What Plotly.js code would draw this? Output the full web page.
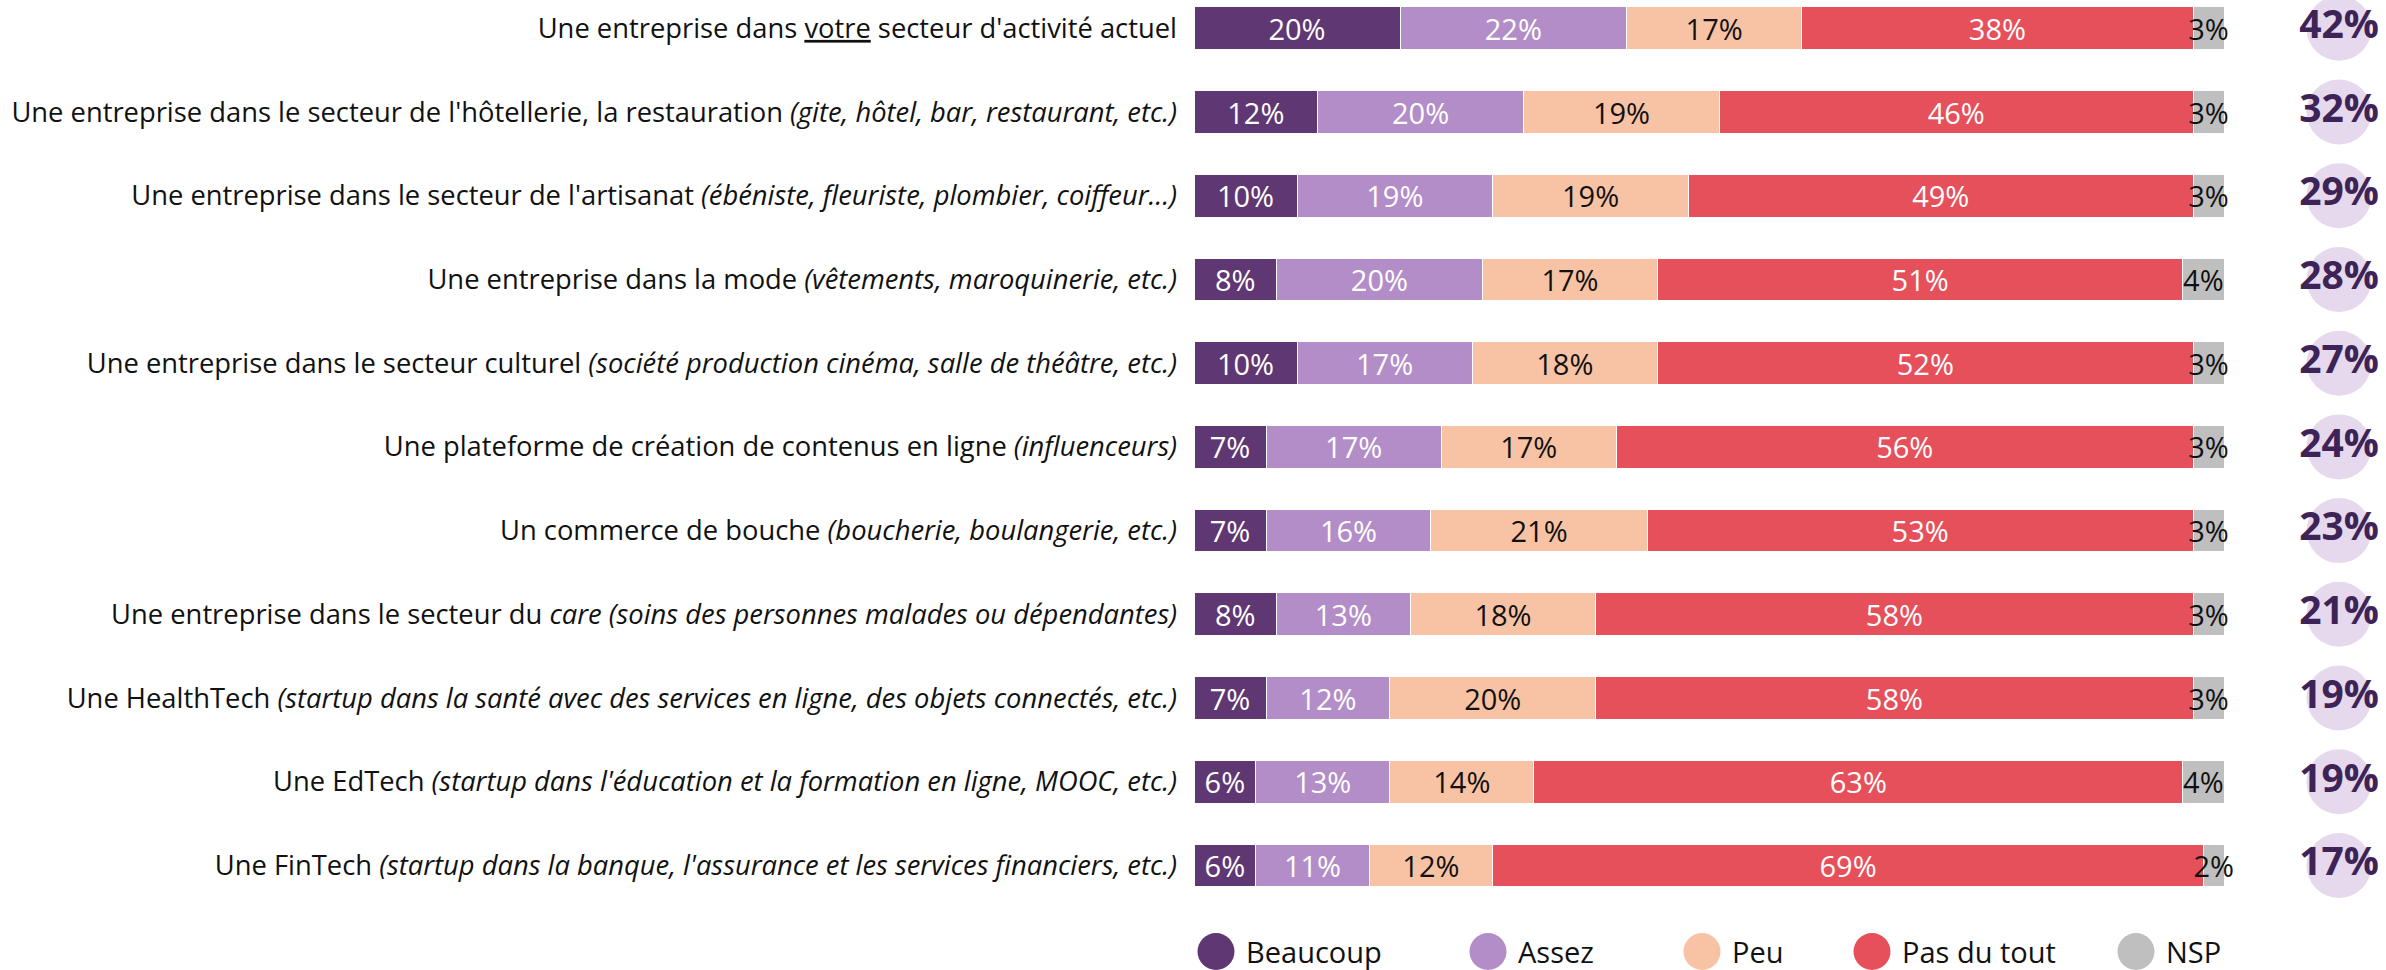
<!DOCTYPE html>
<html>
<head>
<meta charset="utf-8">
<script src="https://cdn.plot.ly/plotly-3.0.1.min.js"></script>
<style>
  html, body { margin: 0; padding: 0; background: #ffffff; }
  #chart { width: 2386px; height: 970px; }
</style>
</head>
<body>
<div id="chart"></div>
<script>
// ---------- DATA ----------
var categories = [
  "Une entreprise dans <u>votre</u> secteur d'activité actuel",
  "Une entreprise dans le secteur de l'hôtellerie, la restauration <i>(gite, hôtel, bar, restaurant, etc.)</i>",
  "Une entreprise dans le secteur de l'artisanat <i>(ébéniste, fleuriste, plombier, coiffeur…)</i>",
  "Une entreprise dans la mode <i>(vêtements, maroquinerie, etc.)</i>",
  "Une entreprise dans le secteur culturel <i>(société production cinéma, salle de théâtre, etc.)</i>",
  "Une plateforme de création de contenus en ligne <i>(influenceurs)</i>",
  "Un commerce de bouche <i>(boucherie, boulangerie, etc.)</i>",
  "Une entreprise dans le secteur du <i>care (soins des personnes malades ou dépendantes)</i>",
  "Une HealthTech <i>(startup dans la santé avec des services en ligne, des objets connectés, etc.)</i>",
  "Une EdTech <i>(startup dans l'éducation et la formation en ligne, MOOC, etc.)</i>",
  "Une FinTech <i>(startup dans la banque, l'assurance et les services financiers, etc.)</i>"
];

var seriesNames = ["Beaucoup", "Assez", "Peu", "Pas du tout", "NSP"];

var beaucoup  = [20, 12, 10,  8, 10,  7,  7,  8,  7,  6,  6];
var assez     = [22, 20, 19, 20, 17, 17, 16, 13, 12, 13, 11];
var peu       = [17, 19, 19, 17, 18, 17, 21, 18, 20, 14, 12];
var pasDuTout = [38, 46, 49, 51, 52, 56, 53, 58, 58, 63, 69];
var nsp       = [ 3,  3,  3,  4,  3,  3,  3,  3,  3,  4,  2];

var totals    = [42, 32, 29, 28, 27, 24, 23, 21, 19, 19, 17];
var totalColumn = "Total";

// ---------- STYLE ----------
var W = 2386, H = 970;
var colors = ["#5f3772", "#b38dc7", "#f7c3a4", "#e6505a", "#bfbfbf"];
var textColors = ["#ffffff", "#ffffff", "#111111", "#ffffff", "#111111"];
var FONT = "'Open Sans', 'Noto Sans', sans-serif";

var seriesValues = [beaucoup, assez, peu, pasDuTout, nsp];

var traces = seriesValues.map(function (vals, i) {
  return {
    type: "bar",
    orientation: "h",
    name: seriesNames[i],
    y: categories,
    x: vals,
    xaxis: "x",
    yaxis: "y",
    width: 0.51,
    marker: { color: colors[i], line: { color: "#ffffff", width: 1 } },
    texttemplate: "%{x}%",
    textposition: "inside",
    insidetextanchor: "middle",
    constraintext: "none",
    textangle: 0,
    insidetextfont: { family: FONT, size: 29, color: textColors[i] },
    cliponaxis: false,
    showlegend: false,
    hoverinfo: "skip"
  };
});

traces.push({
  type: "scatter",
  mode: "markers+text",
  x: totals.map(function () { return totalColumn; }),
  y: categories,
  xaxis: "x2",
  yaxis: "y",
  text: totals.map(function (v) { return v + "%"; }),
  textposition: "middle center",
  textfont: { family: FONT, size: 39, color: "#3d2356", weight: 700 },
  marker: { size: 65, color: "#e6d9ee", line: { width: 0 } },
  cliponaxis: false,
  showlegend: false,
  hoverinfo: "skip"
});

// custom legend (large round markers)
var legendCenters = [1216, 1488, 1702, 1872, 2136];
var legendY = 951.5, legendR = 18.5;
var shapes = [], annotations = [];
seriesNames.forEach(function (name, i) {
  var cx = legendCenters[i];
  shapes.push({
    type: "circle", xref: "paper", yref: "paper",
    x0: (cx - legendR) / W, x1: (cx + legendR) / W,
    y0: 1 - (legendY + legendR) / H, y1: 1 - (legendY - legendR) / H,
    fillcolor: colors[i], line: { width: 0 }
  });
  annotations.push({
    xref: "paper", yref: "paper",
    x: (cx + 28) / W, y: 1 - legendY / H,
    xanchor: "left", yanchor: "middle",
    text: name, showarrow: false,
    font: { family: FONT, size: 29, color: "#111111" }
  });
});

// row centers: first at 28.3px, spacing 83.72px
var rowTop = 28.3, rowStep = 83.72;
var yTop = -rowTop / rowStep;
var yBottom = (H - rowTop) / rowStep;

var layout = {
  width: W, height: H,
  margin: { l: 0, r: 0, t: 0, b: 0, pad: 0 },
  paper_bgcolor: "#ffffff",
  plot_bgcolor: "rgba(0,0,0,0)",
  barmode: "stack",
  hovermode: false,
  showlegend: false,
  font: { family: FONT, color: "#111111" },
  xaxis: {
    domain: [1194 / W, 2224 / W],
    range: [0, 100],
    showgrid: false, zeroline: false, showline: false,
    showticklabels: false, ticks: ""
  },
  xaxis2: {
    domain: [2304 / W, 2374 / W],
    type: "category",
    range: [-0.5, 0.5],
    anchor: "y",
    showgrid: false, zeroline: false, showline: false,
    showticklabels: false, ticks: ""
  },
  yaxis: {
    domain: [0, 1],
    type: "category",
    range: [yBottom, yTop],
    anchor: "x",
    showgrid: false, zeroline: false, showline: false,
    ticks: "",
    ticklabelstandoff: 16,
    tickfont: { family: FONT, size: 27.35, color: "#111111" },
    automargin: false
  },
  shapes: shapes,
  annotations: annotations
};

Plotly.newPlot("chart", traces, layout, { displayModeBar: false, staticPlot: true });
</script>
</body>
</html>
